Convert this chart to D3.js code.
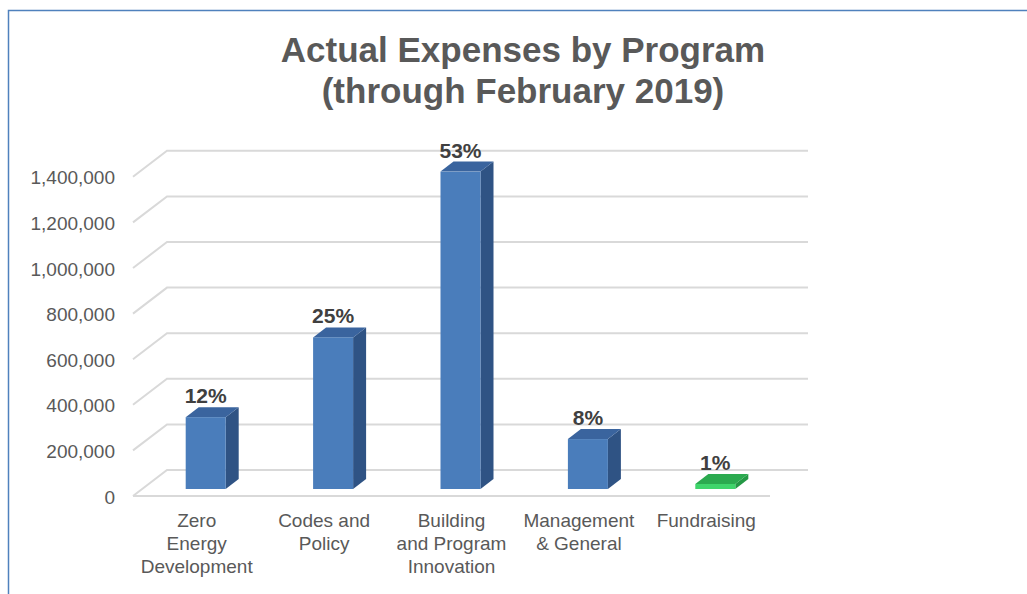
<!DOCTYPE html>
<html>
<head>
<meta charset="utf-8">
<script src="https://cdn.jsdelivr.net/npm/d3@7"></script>
<style>
  html, body { margin: 0; padding: 0; background: #fff; }
  svg { display: block; font-family: "Liberation Sans", Arial, sans-serif; }
</style>
</head>
<body>
<svg id="chart" width="1027" height="594"></svg>
<script>
// ---- data ----
const categories = ["Zero Energy Development", "Codes and Policy", "Building and Program Innovation", "Management & General", "Fundraising"];
const categoryLines = [["Zero", "Energy", "Development"], ["Codes and", "Policy"], ["Building", "and Program", "Innovation"], ["Management", "& General"], ["Fundraising"]];
const values = [315000, 665000, 1392000, 219000, 22000];
const percentLabels = ["12%", "25%", "53%", "8%", "1%"];
const highlight = [false, false, false, false, true];
const yTicks = [0, 200000, 400000, 600000, 800000, 1000000, 1200000, 1400000];
const titleLines = ["Actual Expenses by Program", "(through February 2019)"];

// ---- layout ----
const svg = d3.select("#chart");
const W = 1027, H = 594;
const floorLeft = 133, floorRight = 770;
const wallDx = 34, wallDy = -26;      // depth of the chart box
const planeDx = 9, planeDy = -7;      // position of bars inside the depth
const barDx = 13, barDy = -10;        // depth of each bar
const barW = 40;
const backRight = 808;

const y = d3.scaleLinear().domain([0, 1400000]).range([496, 176.8]);
const x = d3.scaleBand().domain(categories).range([floorLeft, floorRight]).padding(0);

// frame border
svg.append("path")
  .attr("d", `M8.5,${H} L8.5,10.5 L${W},10.5`)
  .attr("fill", "none").attr("stroke", "#4F81BD").attr("stroke-width", 1.5);

// title
const title = svg.append("text")
  .attr("text-anchor", "middle")
  .attr("fill", "#595959")
  .attr("font-weight", "bold")
  .attr("font-size", 35);
titleLines.forEach((t, i) => {
  title.append("tspan").attr("x", 523).attr("y", 62 + i * 41).text(t);
});

// gridlines (wall + floor)
const grid = svg.append("g").attr("fill", "none").attr("stroke", "#D9D9D9").attr("stroke-width", 2);
yTicks.forEach(t => {
  const yy = y(t);
  grid.append("path")
    .attr("d", `M${floorLeft},${yy} L${floorLeft + wallDx},${yy + wallDy} L${backRight},${yy + wallDy}`);
});
grid.append("line")
  .attr("x1", floorLeft).attr("x2", floorRight)
  .attr("y1", y(0)).attr("y2", y(0));

// y axis labels
svg.append("g").selectAll("text").data(yTicks).join("text")
  .attr("x", 115)
  .attr("y", d => y(d) + 1)
  .attr("dominant-baseline", "central")
  .attr("text-anchor", "end")
  .attr("font-size", 19)
  .attr("fill", "#595959")
  .text(d => d3.format(",")(d));

// bars
const bars = svg.append("g");
categories.forEach((c, i) => {
  const cx = x(c) + x.bandwidth() / 2 + planeDx;
  const L = cx - barW / 2, R = cx + barW / 2;
  const top = y(values[i]) + planeDy, bot = y(0) + planeDy;
  const g = highlight[i];
  const front = g ? "#3FD56B" : "#4A7DBB";
  const side = g ? "#249845" : "#2F5384";
  const topC = g ? "#2BAA4F" : "#3A649E";
  bars.append("polygon")
    .attr("points", [[R, top], [R + barDx, top + barDy], [R + barDx, bot + barDy], [R, bot]].join(" "))
    .attr("fill", side);
  bars.append("polygon")
    .attr("points", [[L, top], [L + barDx, top + barDy], [R + barDx, top + barDy], [R, top]].join(" "))
    .attr("fill", topC);
  bars.append("rect")
    .attr("x", L).attr("y", top).attr("width", barW).attr("height", bot - top)
    .attr("fill", front);
  svg.append("text")
    .attr("x", cx).attr("y", top + barDy - 4)
    .attr("text-anchor", "middle")
    .attr("font-size", 21).attr("font-weight", "bold")
    .attr("fill", "#404040")
    .text(percentLabels[i]);
});

// category labels
categories.forEach((c, i) => {
  const cx = x(c) + x.bandwidth() / 2;
  const t = svg.append("text")
    .attr("text-anchor", "middle")
    .attr("font-size", 19)
    .attr("fill", "#595959");
  categoryLines[i].forEach((ln, j) => {
    t.append("tspan").attr("x", cx).attr("y", y(0) + 31 + j * 23).text(ln);
  });
});
</script>
</body>
</html>
